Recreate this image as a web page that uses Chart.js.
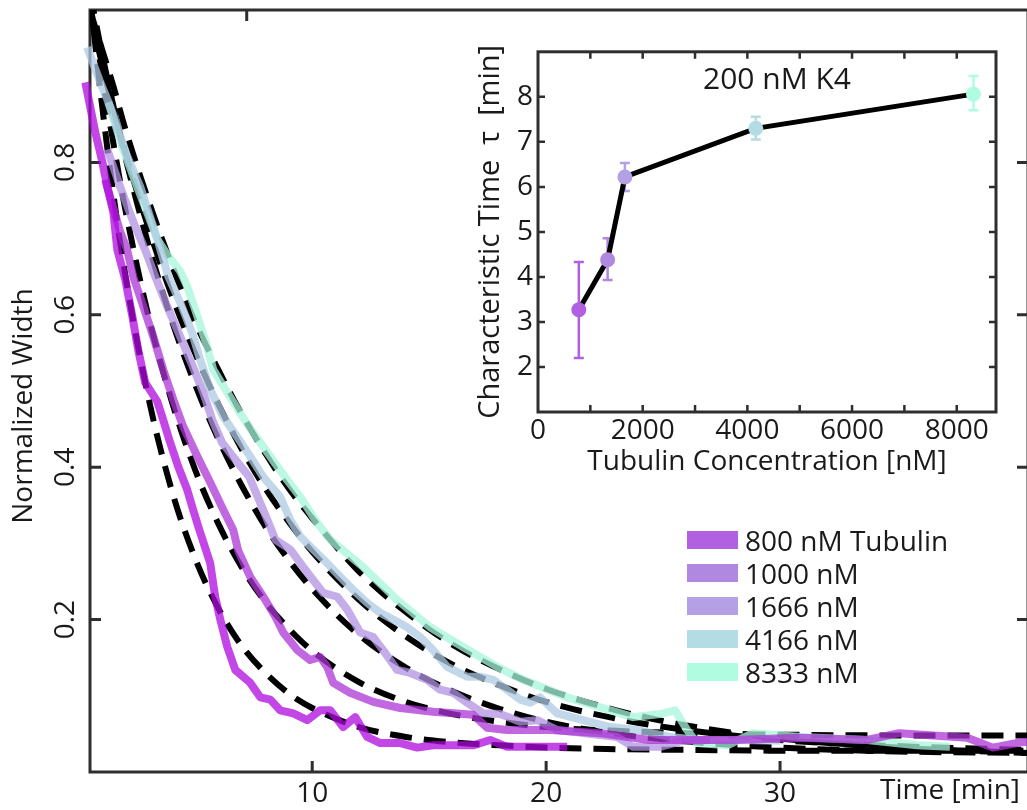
<!DOCTYPE html>
<html>
<head>
<meta charset="utf-8">
<script src="https://cdn.jsdelivr.net/npm/chart.js@4.4.0/dist/chart.umd.min.js"></script>
<style>
  html, body { margin: 0; padding: 0; background: #fff; overflow: hidden; }
  #wrap { position: relative; width: 1027px; height: 810px; overflow: hidden; }
  #main { position: absolute; left: 0; top: 0; }
  #inset { position: absolute; left: 470px; top: 30px; }
  #legend { position: absolute; left: 687px; top: 523px; font-family: 'Open Sans', sans-serif; font-size: 28px; color: #1a1a1a; }
  .row { height: 33px; display: flex; align-items: center; white-space: nowrap; }
  .sw { width: 51px; height: 18px; margin-right: 7px; }
</style>
</head>
<body>
<div id="wrap">
  <canvas id="main" width="1045" height="810"></canvas>
  <canvas id="inset" width="535" height="450"></canvas>
  <div id="legend"></div>
</div>
<script>
// courbes mesurees (temps en min, largeur normalisee)
const T800 = [0.30,0.73,1.03,1.24,1.50,1.67,2.01,2.31,2.56,2.86,3.38,3.59,3.93,4.27,4.66,4.91,5.13,5.64,5.85,6.07,6.37,6.71,7.35,7.78,8.21,8.63,9.19,9.79,10.34,10.77,11.32,11.84,12.35,12.91,13.76,14.49,15.17,16.03,16.88,17.61,18.33,19.32,20.90];
const W800 = [0.905,0.839,0.800,0.768,0.734,0.685,0.646,0.598,0.554,0.511,0.486,0.466,0.432,0.401,0.370,0.344,0.322,0.274,0.230,0.200,0.164,0.134,0.117,0.098,0.095,0.081,0.077,0.068,0.081,0.081,0.059,0.072,0.046,0.038,0.038,0.032,0.035,0.035,0.035,0.042,0.033,0.033,0.033];

const T1000 = [1.15,1.45,1.79,2.09,2.35,2.78,3.21,3.63,4.06,4.49,5.09,5.64,6.20,6.62,6.84,7.35,7.91,8.42,8.76,9.36,9.91,10.34,10.64,10.90,11.62,12.61,13.76,15.17,16.03,16.88,17.48,18.33,19.32,20.2,22.3,24.4,28.0,30.9,33.7,35.1,38.0,39.1,40.3,40.8];
const W1000 = [0.777,0.745,0.709,0.685,0.650,0.611,0.571,0.528,0.489,0.453,0.414,0.380,0.344,0.318,0.290,0.256,0.230,0.204,0.183,0.160,0.147,0.151,0.138,0.117,0.104,0.092,0.084,0.079,0.077,0.075,0.058,0.055,0.055,0.055,0.051,0.042,0.042,0.045,0.042,0.051,0.045,0.032,0.039,0.040];

const T1666 = [1.24,1.79,2.35,2.86,3.29,3.80,4.36,4.87,5.34,5.73,6.15,6.71,7.31,7.78,8.08,8.42,9.06,9.62,10.04,10.47,11.07,11.50,12.05,12.61,13.03,13.63,14.19,14.91,15.47,16.03,16.62,17.31,18.03,18.89,19.62,20.47,21.58,23.03,23.72,24.87,25.85,27.0];
const W1666 = [0.817,0.768,0.722,0.685,0.650,0.611,0.571,0.534,0.498,0.462,0.432,0.410,0.387,0.353,0.331,0.305,0.292,0.269,0.252,0.235,0.230,0.213,0.183,0.177,0.160,0.134,0.130,0.121,0.108,0.104,0.091,0.077,0.076,0.066,0.068,0.055,0.051,0.046,0.033,0.033,0.041,0.042];

const T4166 = [0.38,0.94,1.37,2.09,2.65,3.38,3.85,4.36,4.87,5.21,5.64,6.20,6.79,7.35,7.91,8.63,9.06,9.49,10.04,10.64,11.20,11.75,12.35,12.91,13.46,14.06,14.62,15.17,15.77,16.62,17.18,17.74,18.33,18.89,19.32,19.74,20.47,21.58,22.74,23.89,25.30,26.58,28.3,30.0];
const W4166 = [0.951,0.905,0.873,0.808,0.768,0.699,0.650,0.616,0.576,0.541,0.502,0.466,0.440,0.414,0.387,0.361,0.331,0.309,0.292,0.274,0.256,0.239,0.222,0.209,0.200,0.190,0.177,0.160,0.138,0.125,0.125,0.121,0.108,0.095,0.091,0.098,0.077,0.068,0.059,0.055,0.046,0.042,0.042,0.041];

const T8333 = [1.28,1.92,2.52,2.95,3.38,3.80,4.36,4.66,5.09,5.51,5.77,6.37,6.92,7.48,8.21,8.93,9.49,10.21,10.77,12.18,13.63,15.04,16.45,17.91,19.02,20.9,22.31,23.72,24.87,25.51,26.03,26.45,27.74,28.85,30.85,33.72,35.85,37.26];
const W8333 = [0.879,0.817,0.768,0.734,0.699,0.679,0.657,0.637,0.598,0.558,0.528,0.498,0.471,0.445,0.414,0.383,0.361,0.327,0.305,0.269,0.226,0.190,0.164,0.138,0.121,0.098,0.085,0.072,0.076,0.081,0.055,0.038,0.035,0.051,0.046,0.042,0.035,0.033];

// ajustements (tirets noirs)
const FIT_T = [0.5,1,1.5,2,3,4,5,6,7,8,9,10,12,14,16,18,20,23,26,30,35,40.6];
const FIT800  = [1.018,0.879,0.758,0.654,0.491,0.369,0.280,0.214,0.165,0.130,0.103,0.084,0.059,0.046,0.039,0.035,0.032,0.030,0.029,0.028,0.028,0.028];
const FIT1000 = [1.024,0.918,0.825,0.740,0.598,0.486,0.396,0.325,0.268,0.223,0.188,0.159,0.118,0.092,0.076,0.066,0.059,0.054,0.051,0.049,0.048,0.048];
const FIT1666 = [1.023,0.945,0.874,0.808,0.692,0.592,0.508,0.436,0.375,0.322,0.278,0.240,0.180,0.137,0.106,0.083,0.066,0.050,0.040,0.032,0.027,0.025];
const FIT4166 = [0.995,0.931,0.870,0.814,0.714,0.625,0.549,0.482,0.423,0.372,0.328,0.289,0.226,0.178,0.141,0.114,0.092,0.070,0.055,0.042,0.034,0.029];
const FIT8333 = [1.000,0.950,0.900,0.845,0.750,0.665,0.590,0.527,0.469,0.418,0.372,0.333,0.263,0.210,0.167,0.135,0.109,0.081,0.061,0.044,0.032,0.025];

const SERIES_LABELS = ['800 nM Tubulin', '1000 nM', '1666 nM', '4166 nM', '8333 nM'];
const LINE_COLORS = ['rgba(175,10,222,0.75)', 'rgba(172,52,213,0.75)', 'rgba(176,146,224,0.75)', 'rgba(174,203,227,0.75)', 'rgba(167,246,219,0.75)'];
const SWATCH_COLORS = ['#b060e0', '#b088e0', '#b4a0e4', '#b4dce4', '#b0fce0'];

const X_TICKS = [10, 20, 30];
const TOP_TICKS = [7.2];
const Y_TICKS = [0.2, 0.4, 0.6, 0.8];

// encart
const TUB_CONC = [780, 1330, 1660, 4160, 8320];
const TAU = [3.27, 4.38, 6.22, 7.30, 8.06];
const TAU_LOW = [2.20, 3.93, 5.91, 7.05, 7.70];
const TAU_HIGH = [4.33, 4.86, 6.53, 7.56, 8.46];
const INSET_X_LABELS = [0, 2000, 4000, 6000, 8000];
const INSET_X_TICKS = [1000, 2000, 3000, 4000, 5000, 6000, 7000, 8000];
const INSET_Y_TICKS = [2, 3, 4, 5, 6, 7, 8];

const FONT = "'Open Sans', sans-serif";
const AXIS_COLOR = '#2e2e2e';
const TEXT_COLOR = '#1a1a1a';

function pts(ts, ws) {
    return ts.map((t, i) => ({ x: t, y: ws[i] }));
}

const dataT = [T800, T1000, T1666, T4166, T8333];
const dataW = [W800, W1000, W1666, W4166, W8333];
const fits = [FIT800, FIT1000, FIT1666, FIT4166, FIT8333];

const datasets = [];
dataT.forEach((ts, i) => {
    datasets.push({
        data: pts(ts, dataW[i]),
        borderColor: LINE_COLORS[i],
        borderWidth: 8,
        pointRadius: 0,
        tension: 0,
        borderJoinStyle: 'round',
        clip: { left: 10, top: 0, right: 5, bottom: 0 },
        order: i
    });
});
fits.forEach(f => {
    datasets.push({
        data: pts(FIT_T, f),
        borderColor: '#000',
        borderWidth: 6,
        borderDash: [22, 12],
        pointRadius: 0,
        cubicInterpolationMode: 'monotone',
        order: 10
    });
});

// cadre, graduations vers l'interieur, textes de l'axe
const mainFrame = {
    id: 'mainFrame',
    beforeDatasetsDraw(chart) {
        const { ctx, chartArea: a, scales: { x, y } } = chart;
        ctx.save();
        ctx.strokeStyle = AXIS_COLOR;
        ctx.lineWidth = 3;
        ctx.strokeRect(a.left, a.top, a.right - a.left, a.bottom - a.top);
        ctx.beginPath();
        X_TICKS.forEach(v => {
            const px = x.getPixelForValue(v);
            ctx.moveTo(px, a.bottom); ctx.lineTo(px, a.bottom - 11);
        });
        TOP_TICKS.forEach(v => {
            const px = x.getPixelForValue(v);
            ctx.moveTo(px, a.top); ctx.lineTo(px, a.top + 11);
        });
        Y_TICKS.forEach(v => {
            const py = y.getPixelForValue(v);
            ctx.moveTo(a.left, py); ctx.lineTo(a.left + 11, py);
            ctx.moveTo(a.right, py); ctx.lineTo(a.right - 11, py);
        });
        ctx.stroke();

        ctx.fillStyle = TEXT_COLOR;
        ctx.textAlign = 'center';
        ctx.textBaseline = 'middle';
        ctx.font = '28px ' + FONT;
        Y_TICKS.forEach(v => {
            ctx.save();
            ctx.translate(66, y.getPixelForValue(v));
            ctx.rotate(-Math.PI / 2);
            ctx.fillText(v.toFixed(1), 0, 0);
            ctx.restore();
        });
        ctx.save();
        ctx.translate(24, 406);
        ctx.rotate(-Math.PI / 2);
        ctx.fillText('Normalized Width', 0, 0);
        ctx.restore();
        ctx.textAlign = 'right';
        ctx.fillText('Time [min]', 1020, 791);
        ctx.restore();
    }
};

new Chart(document.getElementById('main'), {
    type: 'line',
    data: { datasets: datasets },
    options: {
        responsive: false,
        animation: false,
        layout: { padding: { top: 10, right: 17, left: 0, bottom: 0 } },
        plugins: { legend: { display: false }, tooltip: { enabled: false } },
        scales: {
            x: {
                type: 'linear', min: 0.5, max: 40.6,
                grid: { display: false, drawTicks: false }, border: { display: false },
                afterBuildTicks: s => { s.ticks = X_TICKS.map(v => ({ value: v })); },
                afterFit: s => { s.height = 38; },
                ticks: { padding: 5, autoSkip: false, maxRotation: 0, color: TEXT_COLOR, font: { family: FONT, size: 28 } }
            },
            y: {
                type: 'linear', min: 0, max: 1,
                grid: { display: false, drawTicks: false }, border: { display: false },
                afterFit: s => { s.width = 90; },
                ticks: { display: false }
            }
        }
    },
    plugins: [mainFrame]
});

// legende
const legend = document.getElementById('legend');
SERIES_LABELS.forEach((lab, i) => {
    const row = document.createElement('div');
    row.className = 'row';
    row.innerHTML = `<div class="sw" style="background:${SWATCH_COLORS[i]}"></div><span>${lab}</span>`;
    legend.appendChild(row);
});

// encart : temps caracteristique
const insetDeco = {
    id: 'insetDeco',
    beforeDatasetsDraw(chart) {
        const { ctx, chartArea: a, scales: { x, y } } = chart;
        ctx.save();
        ctx.strokeStyle = AXIS_COLOR;
        ctx.lineWidth = 3;
        ctx.strokeRect(a.left, a.top, a.right - a.left, a.bottom - a.top);
        ctx.lineWidth = 2.5;
        ctx.beginPath();
        INSET_X_TICKS.forEach(v => {
            const px = x.getPixelForValue(v);
            ctx.moveTo(px, a.bottom); ctx.lineTo(px, a.bottom - 7);
            ctx.moveTo(px, a.top); ctx.lineTo(px, a.top + 7);
        });
        INSET_Y_TICKS.forEach(v => {
            const py = y.getPixelForValue(v);
            ctx.moveTo(a.left, py); ctx.lineTo(a.left + 7, py);
            ctx.moveTo(a.right, py); ctx.lineTo(a.right - 7, py);
        });
        ctx.stroke();
        // barres d'erreur
        TUB_CONC.forEach((c, i) => {
            const px = x.getPixelForValue(c);
            const lo = y.getPixelForValue(TAU_LOW[i]);
            const hi = y.getPixelForValue(TAU_HIGH[i]);
            ctx.strokeStyle = SWATCH_COLORS[i];
            ctx.beginPath();
            ctx.moveTo(px, lo); ctx.lineTo(px, hi);
            ctx.moveTo(px - 5, lo); ctx.lineTo(px + 5, lo);
            ctx.moveTo(px - 5, hi); ctx.lineTo(px + 5, hi);
            ctx.stroke();
        });
        ctx.restore();
    },
    afterDraw(chart) {
        const { ctx } = chart;
        ctx.save();
        ctx.fillStyle = TEXT_COLOR;
        ctx.font = '30px ' + FONT;
        ctx.textAlign = 'center';
        ctx.textBaseline = 'middle';
        ctx.fillText('200 nM K4', 307, 50);
        ctx.restore();
    }
};

new Chart(document.getElementById('inset'), {
    type: 'line',
    data: {
        datasets: [{
            data: TUB_CONC.map((c, i) => ({ x: c, y: TAU[i] })),
            borderColor: '#000',
            borderWidth: 5,
            pointRadius: 7.5,
            pointBorderWidth: 0,
            pointBackgroundColor: SWATCH_COLORS,
            tension: 0
        }]
    },
    options: {
        responsive: false,
        animation: false,
        layout: { padding: { top: 18, right: 9, left: 0, bottom: 0 } },
        plugins: { legend: { display: false }, tooltip: { enabled: false } },
        scales: {
            x: {
                type: 'linear', min: 0, max: 8750,
                grid: { display: false, drawTicks: false }, border: { display: false },
                afterBuildTicks: s => { s.ticks = INSET_X_LABELS.map(v => ({ value: v })); },
                afterFit: s => { s.height = 68; },
                ticks: {
                    autoSkip: false, maxRotation: 0, padding: 2,
                    callback: v => String(v),
                    color: TEXT_COLOR, font: { family: FONT, size: 28 }
                },
                title: { display: true, text: 'Tubulin Concentration [nM]', color: TEXT_COLOR, font: { family: FONT, size: 28 }, padding: { top: 0, bottom: 1 } }
            },
            y: {
                type: 'linear', min: 1, max: 9,
                grid: { display: false, drawTicks: false }, border: { display: false },
                afterBuildTicks: s => { s.ticks = INSET_Y_TICKS.map(v => ({ value: v })); },
                afterFit: s => { s.width = 68; },
                ticks: {
                    padding: 5,
                    color: TEXT_COLOR, font: { family: FONT, size: 28 }
                },
                title: { display: true, text: 'Characteristic Time  τ  [min]', color: TEXT_COLOR, font: { family: FONT, size: 29 }, padding: { top: 3, bottom: 0 } }
            }
        }
    },
    plugins: [insetDeco]
});
</script>
</body>
</html>
